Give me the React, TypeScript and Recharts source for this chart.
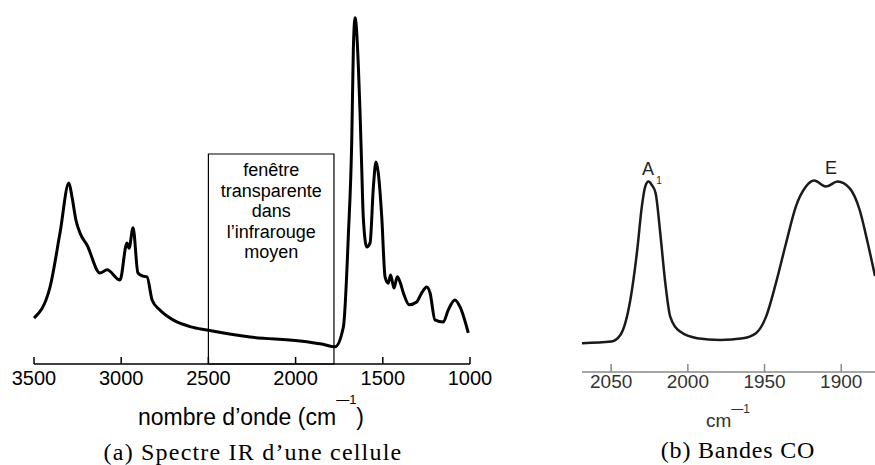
import React from "react"
import { LineChart, Line, XAxis, YAxis, ReferenceArea } from "recharts"

// (a) IR spectrum of a cell
const irWavenumbers = [
  3500, 3408, 3351, 3300, 3282, 3259, 3236, 3196, 3122, 3081, 3007, 2967, 2955, 2932, 2904,
  2875, 2852, 2823, 2778, 2703, 2600, 2508, 2261, 1975, 1850, 1774, 1726, 1697, 1678, 1669,
  1659, 1640, 1631, 1621, 1612, 1592, 1573, 1554, 1539, 1526, 1506, 1487, 1469, 1455, 1436,
  1417, 1401, 1382, 1348, 1306, 1277, 1248, 1229, 1201, 1153, 1125, 1086, 1057, 1010,
]
const irAbsorbance = [
  0.131, 0.22, 0.374, 0.517, 0.477, 0.41, 0.374, 0.34, 0.26, 0.269, 0.24, 0.346, 0.331, 0.389, 0.26,
  0.251, 0.249, 0.183, 0.154, 0.126, 0.106, 0.097, 0.077, 0.066, 0.057, 0.049, 0.106, 0.374, 0.64, 0.897,
  0.989, 0.849, 0.726, 0.563, 0.42, 0.334, 0.346, 0.506, 0.577, 0.546, 0.42, 0.249, 0.231, 0.254, 0.217,
  0.249, 0.234, 0.203, 0.169, 0.177, 0.203, 0.22, 0.203, 0.126, 0.12, 0.154, 0.183, 0.163, 0.089,
]
const irTicks = [3500, 3000, 2500, 2000, 1500, 1000]
const windowRange = [2500, 1780]
const windowTop = 0.6
const windowText = ["fenêtre", "transparente", "dans", "l’infrarouge", "moyen"]

// (b) CO bands
const coWavenumbers = [
  2069, 2050, 2044, 2037.5, 2033, 2030, 2027.8, 2025.6, 2023.5, 2021, 2018, 2014.7, 2011.5, 2005,
  1994, 1979, 1964, 1955.6, 1949, 1942.6, 1936, 1929.6, 1923, 1917.7, 1910, 1902.4, 1894.6, 1888,
  1882.7, 1878,
]
const coAbsorbance = [
  0.144, 0.152, 0.185, 0.36, 0.61, 0.827, 0.927, 0.952, 0.935, 0.894, 0.695, 0.445, 0.277, 0.202,
  0.169, 0.16, 0.169, 0.194, 0.277, 0.444, 0.644, 0.827, 0.927, 0.957, 0.927, 0.952, 0.919, 0.81,
  0.644, 0.48,
]
const coTicks = [2050, 2000, 1950, 1900]

const irData = irWavenumbers.map((w, i) => ({ w, a: irAbsorbance[i] }))
const coData = coWavenumbers.map((w, i) => ({ w, a: coAbsorbance[i] }))

const sans = "'Liberation Sans', Arial, Helvetica, sans-serif"
const serif = "'Liberation Serif', 'Times New Roman', serif"

const IrTick = (props: any) => {
  const { x, y, payload } = props
  return (
    <g>
      <line x1={x} x2={x} y1={y - 7} y2={y} stroke="#000" strokeWidth={1.5} />
      <text x={x} y={y + 21} textAnchor="middle" fontFamily={sans} fontSize={20} fill="#000">
        {payload.value}
      </text>
    </g>
  )
}

const CoTick = (props: any) => {
  const { x, y, payload } = props
  return (
    <g>
      <line x1={x} x2={x} y1={y - 8} y2={y} stroke="#888" strokeWidth={1.5} />
      <text x={x} y={y + 16} textAnchor="middle" fontFamily={sans} fontSize={19} fill="#333">
        {payload.value}
      </text>
    </g>
  )
}

const windowLabel = (props: any) => {
  const { x, y, width } = props.viewBox
  return (
    <text x={x + width / 2} y={y} textAnchor="middle" fontFamily={sans} fontSize={18} fill="#000">
      {windowText.map((t, i) => (
        <tspan key={t} x={x + width / 2} y={y + 22 + i * 20.5}>
          {t}
        </tspan>
      ))}
    </text>
  )
}

export default function App() {
  return (
    <div style={{ position: "absolute", left: 0, top: 0, width: 875, height: 465, background: "#fff" }}>
      <div style={{ position: "absolute", left: 0, top: 0 }}>
        <LineChart width={500} height={465} data={irData} margin={{ top: 14, right: 30, left: 34, bottom: 0 }}>
          <XAxis
            dataKey="w"
            type="number"
            domain={[1000, 3500]}
            reversed
            ticks={irTicks}
            height={101}
            axisLine={{ stroke: "#000", strokeWidth: 1.5 }}
            tickLine={false}
            tickSize={0}
            tickMargin={0}
            tick={<IrTick />}
            interval={0}
          />
          <YAxis hide domain={[0, 1]} />
          <ReferenceArea
            x1={windowRange[0]}
            x2={windowRange[1]}
            y1={0}
            y2={windowTop}
            stroke="#000"
            strokeWidth={1.2}
            fill="none"
            fillOpacity={0}
            label={windowLabel}
          />
          <Line
            type="monotone"
            dataKey="a"
            stroke="#000"
            strokeWidth={3}
            dot={false}
            isAnimationActive={false}
          />
        </LineChart>
      </div>
      <div style={{ position: "absolute", left: 570, top: 0 }}>
        <LineChart width={305} height={465} data={coData} margin={{ top: 172, right: 0, left: 12, bottom: 0 }}>
          <XAxis
            dataKey="w"
            type="number"
            domain={[1878, 2069]}
            reversed
            allowDataOverflow
            ticks={coTicks}
            height={93}
            axisLine={{ stroke: "#888", strokeWidth: 1.5 }}
            tickLine={false}
            tickSize={0}
            tickMargin={0}
            tick={<CoTick />}
            interval={0}
          />
          <YAxis hide domain={[0, 1]} />
          <Line
            type="monotone"
            dataKey="a"
            stroke="#1a1a1a"
            strokeWidth={2.5}
            dot={false}
            isAnimationActive={false}
          />
        </LineChart>
      </div>
      <svg
        width={875}
        height={465}
        style={{ position: "absolute", left: 0, top: 0, pointerEvents: "none" }}
      >
        <text x={251} y={425} textAnchor="middle" fontFamily={sans} fontSize={23} fill="#000">
          nombre d’onde (cm
          <tspan dy={-21} fontSize={13}>—1</tspan>
          <tspan dy={21}>)</tspan>
        </text>
        <text x={253} y={460} textAnchor="middle" fontFamily={serif} fontSize={24} letterSpacing={1.2} fill="#000">
          (a) Spectre IR d’une cellule
        </text>
        <text x={648} y={175} textAnchor="middle" fontFamily={sans} fontSize={18} fill="#222">
          A
        </text>
        <text x={659} y={184} textAnchor="middle" fontFamily={sans} fontSize={10} fill="#222">
          1
        </text>
        <text x={831} y={174} textAnchor="middle" fontFamily={sans} fontSize={18} fill="#222">
          E
        </text>
        <text x={728} y={427} textAnchor="middle" fontFamily={sans} fontSize={19} fill="#333">
          cm
          <tspan dy={-14} fontSize={12}>—1</tspan>
        </text>
        <text x={738} y={458} textAnchor="middle" fontFamily={serif} fontSize={24} letterSpacing={0.8} fill="#000">
          (b) Bandes CO
        </text>
      </svg>
    </div>
  )
}
